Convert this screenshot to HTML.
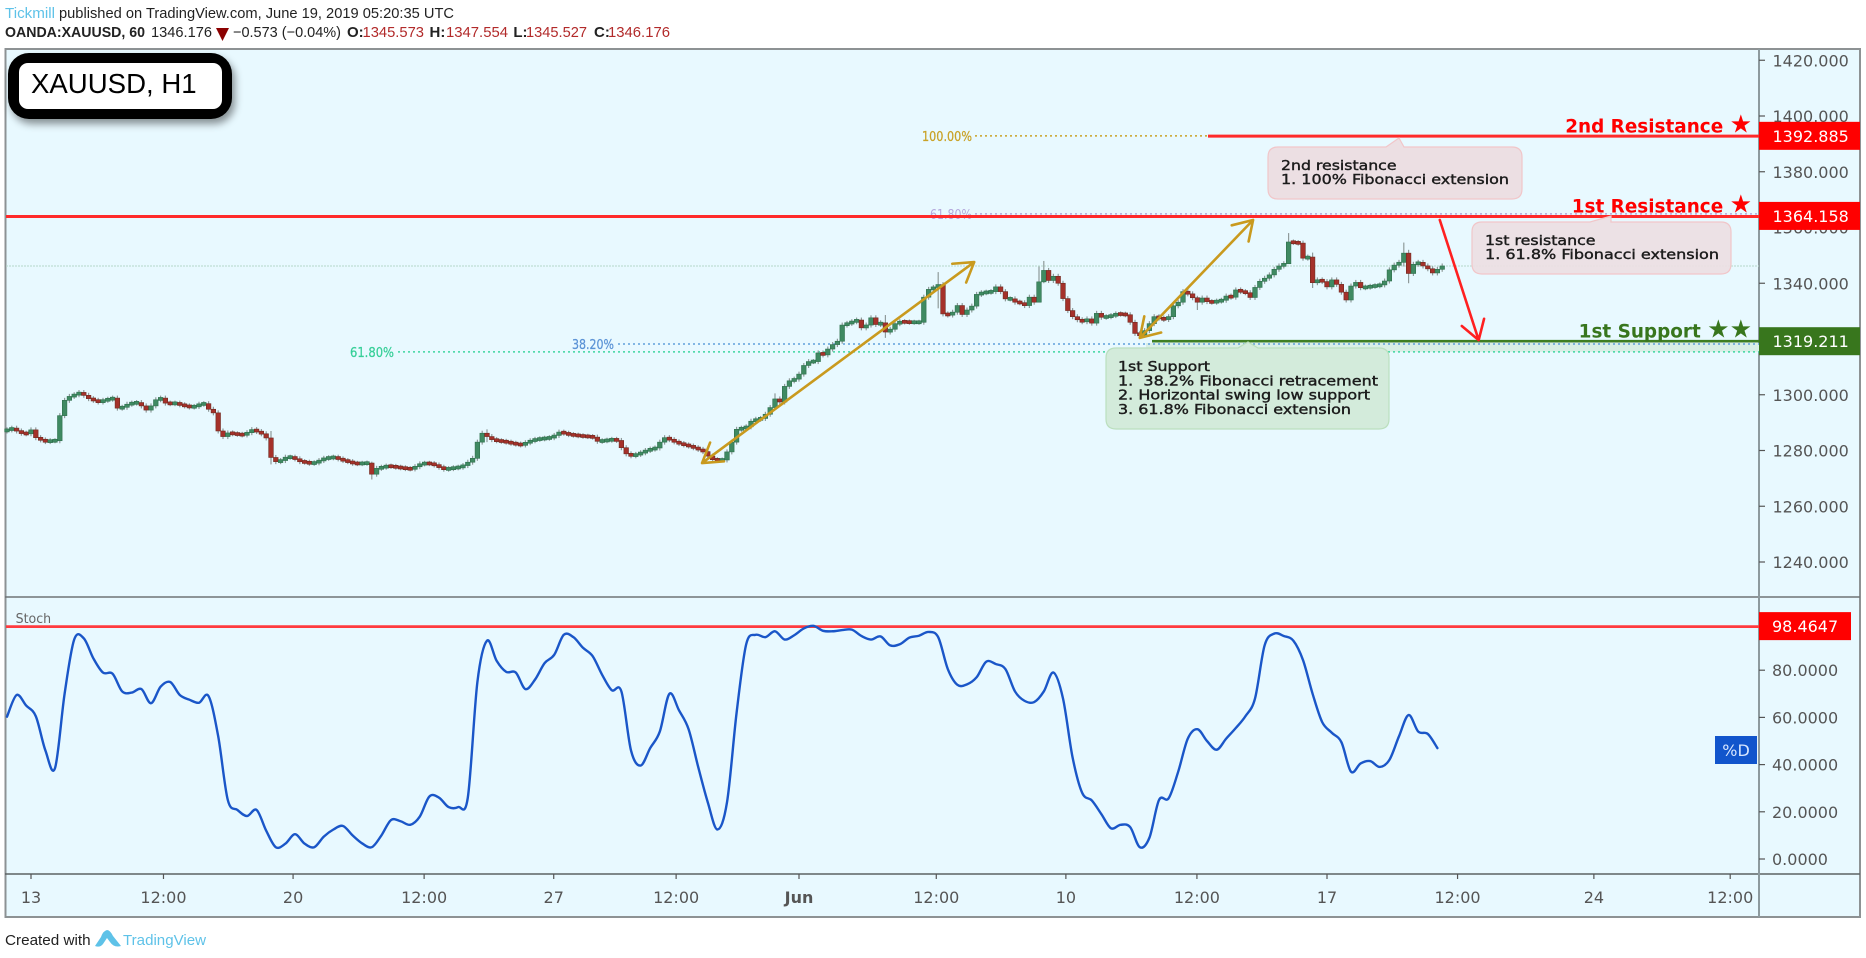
<!DOCTYPE html>
<html lang="en">
<head>
<meta charset="utf-8">
<title>XAUUSD H1 chart</title>
<style>
html,body{margin:0;padding:0;background:#fff;width:1866px;height:958px;overflow:hidden}
svg{display:block;filter:blur(.35px)}
text{font-family:"DejaVu Sans","Liberation Sans",sans-serif}
.hdr{font-family:"Liberation Sans",sans-serif;font-size:15px;fill:#222}
.tick{font-size:16px;fill:#555}
.call{font-size:13.3px;fill:#1c1c1c;stroke:#1c1c1c;stroke-width:.4}
</style>
</head>
<body>
<svg id="chart" xmlns="http://www.w3.org/2000/svg" width="1866" height="958" viewBox="0 0 1866 958">
  <rect x="0" y="0" width="1866" height="958" fill="#ffffff"/>

  <g>
    <text class="hdr" x="5" y="18" textLength="50" lengthAdjust="spacingAndGlyphs" style="fill:#5ec2e8">Tickmill</text>
    <text class="hdr" x="59" y="18" textLength="395" lengthAdjust="spacingAndGlyphs">published on TradingView.com, June 19, 2019 05:20:35 UTC</text>
  </g>
  <g>
    <text class="hdr" x="5" y="37" textLength="140" lengthAdjust="spacingAndGlyphs" font-weight="bold" style="font-weight:bold">OANDA:XAUUSD, 60</text>
    <text class="hdr" x="151" y="37" textLength="61" lengthAdjust="spacingAndGlyphs">1346.176</text>
    <polygon points="216,28 229,28 222.5,41" fill="#8b0000"/>
    <text class="hdr" x="233" y="37" textLength="108" lengthAdjust="spacingAndGlyphs">−0.573 (−0.04%)</text>
    <text class="hdr" x="347" y="37" style="font-weight:bold">O:</text>
    <text class="hdr" x="362.5" y="37" textLength="61.5" lengthAdjust="spacingAndGlyphs" style="fill:#b22a2a">1345.573</text>
    <text class="hdr" x="429.5" y="37" style="font-weight:bold">H:</text>
    <text class="hdr" x="446" y="37" textLength="62" lengthAdjust="spacingAndGlyphs" style="fill:#b22a2a">1347.554</text>
    <text class="hdr" x="513.4" y="37" style="font-weight:bold">L:</text>
    <text class="hdr" x="526" y="37" textLength="61" lengthAdjust="spacingAndGlyphs" style="fill:#b22a2a">1345.527</text>
    <text class="hdr" x="594" y="37" style="font-weight:bold">C:</text>
    <text class="hdr" x="608" y="37" textLength="62" lengthAdjust="spacingAndGlyphs" style="fill:#b22a2a">1346.176</text>
  </g>

  <rect x="5.5" y="49" width="1854.5" height="868" fill="#e8f9ff" stroke="#8d9294" stroke-width="2"/>
  <line x1="5" y1="597" x2="1860" y2="597" stroke="#6f7476" stroke-width="1.5"/>
  <line x1="5" y1="874" x2="1860" y2="874" stroke="#5c6264" stroke-width="1.5"/>
  <line x1="1759" y1="49" x2="1759" y2="917" stroke="#8d9a9e" stroke-width="2"/>

  <g id="time-axis"></g>
  <g id="price-axis"></g>
  <g id="stoch-axis"></g>
  <g id="levels"></g>
  <g id="candles"></g>
  <g id="arrows"></g>

  <g>
    <path d="M1278 147H1386L1399 138L1404 147H1512Q1522 147 1522 157V189Q1522 199 1512 199H1278Q1268 199 1268 189V157Q1268 147 1278 147Z" fill="#ecdfe3" stroke="#f1c6c9" stroke-width="1.2"/>
    <text class="call" x="1281" y="170" textLength="115.5" lengthAdjust="spacingAndGlyphs">2nd resistance</text>
    <text class="call" x="1281" y="184" textLength="228" lengthAdjust="spacingAndGlyphs">1. 100% Fibonacci extension</text>
  </g>
  <g>
    <path d="M1482 222H1590L1611 216L1611 222H1721Q1731 222 1731 232V264Q1731 274 1721 274H1482Q1472 274 1472 264V232Q1472 222 1482 222Z" fill="#ecdfe3" fill-opacity=".93" stroke="#f1c6c9" stroke-width="1.2"/>
    <text class="call" x="1485" y="245" textLength="110.5" lengthAdjust="spacingAndGlyphs">1st resistance</text>
    <text class="call" x="1485" y="259" textLength="234" lengthAdjust="spacingAndGlyphs">1. 61.8% Fibonacci extension</text>
  </g>
  <g>
    <path d="M1116 348H1238L1248 342L1258 348H1379Q1389 348 1389 358V419Q1389 429 1379 429H1116Q1106 429 1106 419V358Q1106 348 1116 348Z" fill="#d3ebdb" stroke="#bbdfbe" stroke-width="1.2"/>
    <text class="call" x="1118" y="371" textLength="92" lengthAdjust="spacingAndGlyphs">1st Support</text>
    <text class="call" x="1118" y="385.5" textLength="260" lengthAdjust="spacingAndGlyphs">1.&#160;&#160;38.2% Fibonacci retracement</text>
    <text class="call" x="1118" y="399.5" textLength="252" lengthAdjust="spacingAndGlyphs">2. Horizontal swing low support</text>
    <text class="call" x="1118" y="414" textLength="233" lengthAdjust="spacingAndGlyphs">3. 61.8% Fibonacci extension</text>
  </g>

  <g id="level-tags"></g>

  <g>
    <rect x="8" y="53" width="224" height="66" rx="21" ry="21" fill="#000" style="filter:drop-shadow(3px 5px 4px rgba(0,0,0,.42))"/>
    <rect x="19" y="63" width="203" height="46" rx="9" ry="9" fill="#fff"/>
    <text x="31" y="93" style="font-family:'Liberation Sans',sans-serif;font-size:27.6px;fill:#000">XAUUSD, H1</text>
  </g>

  <text x="15.6" y="623" textLength="35.5" lengthAdjust="spacingAndGlyphs" style="font-size:13px;fill:#666">Stoch</text>
  <g id="stoch-series"></g>
  <g>
    <rect x="1715" y="736" width="42" height="28" fill="#1155cc"/>
    <text x="1736" y="756" text-anchor="middle" style="font-size:16px;fill:#d7e6ff">%D</text>
  </g>

  <g>
    <text class="hdr" x="5" y="945" textLength="85.6" lengthAdjust="spacingAndGlyphs">Created with</text>
    <path d="M95 946 L101 937 Q103 931 107 930 Q110 930 113 936 L121 946 Q114 948 110 942 L107 938 L103 944 Q100 948 95 946Z" fill="#5ec2e8"/>
    <text class="hdr" x="123" y="945" textLength="83" lengthAdjust="spacingAndGlyphs" style="fill:#5ec2e8">TradingView</text>
  </g>
</svg>

<script>
const closes = [
1287.4,1288,1287,1286.2,1286,1287.4,1284.6,1283.8,1283.2,1283.5,
1283.5,1292.5,1298,1299.4,1300,1300.8,1299.8,1298.6,1298,1297.4,
1298,1298.4,1298.8,1295.2,1295.5,1296.6,1297,1297.2,1296,1294.5,
1296,1298.2,1298.8,1297,1296.8,1297,1296.4,1296,1295.6,1295.8,
1296.6,1296.8,1294.8,1293.5,1287,1285,1286.3,1286,1285.8,1285.6,
1286.4,1287.5,1286.8,1286,1284.5,1277.5,1276,1276.4,1277.6,1277.6,
1277,1276,1275.8,1275.4,1275.6,1276.4,1277.2,1277.4,1277.6,1277,
1276.4,1276,1275.4,1275.3,1275.4,1275.5,1271.5,1273.6,1274,1274.4,
1274.3,1274,1273.8,1273.5,1273.4,1274.2,1275.2,1275.4,1275.3,1274.8,
1274,1273.3,1273.5,1273.8,1274,1274.6,1275.8,1277.2,1283,1286.2,
1285,1283.9,1283.5,1283.3,1283,1282.6,1282.3,1282,1282.8,1283.5,
1284,1284.2,1284.4,1284.6,1285.4,1286.6,1286.2,1285.7,1285.5,1285.3,
1285.1,1285,1284.8,1283.3,1283.5,1283.7,1284,1283.6,1281,1278.8,
1278.1,1278.6,1279.2,1280,1280.5,1280.9,1283,1284.6,1283.9,1283.1,
1282.5,1282,1281.6,1281,1280.4,1279.6,1278,1276.7,1276.6,1276.6,
1279.5,1283,1287.6,1288,1288.5,1290.5,1291.2,1291.5,1293,1295.4,
1298.5,1297.4,1303,1305,1305.6,1307.4,1310.5,1311.9,1311.9,1315,
1314.3,1316.4,1318,1319.2,1325,1325.6,1326.2,1326.8,1324,1325,
1327.6,1325.2,1325.8,1322.5,1323.5,1325.5,1326.2,1326.1,1326,1326,
1326,1335,1337.8,1338.5,1339.5,1329,1328.6,1329.6,1332,1328.8,
1330.4,1331.8,1336,1336.6,1336.8,1337,1338.7,1337,1334.4,1334.4,
1333.2,1333,1332,1335,1333.2,1340.5,1344.6,1341,1342.5,1340,
1334.5,1330.2,1328,1326.9,1326.2,1327.2,1325.7,1329.2,1327.8,1328,
1328.4,1329,1328.9,1328.7,1326,1322,1321.4,1323,1325.5,1328,
1327.5,1327,1328,1331.9,1333.2,1337,1336.2,1334.8,1333.2,1334.7,
1333.4,1333.2,1333.6,1333.9,1335.4,1335,1337.6,1337,1336.6,1334.9,
1338.5,1340.7,1341.8,1343,1345,1346.2,1347,1354.8,1354.6,1354.4,
1349,1349.4,1340.2,1341.2,1340.6,1338.7,1341.2,1339.6,1336.8,1334,
1339,1340.3,1338.4,1338.6,1338.9,1339.1,1339.4,1340.8,1344.8,1346.5,
1347.5,1350.8,1343.5,1346.8,1347.5,1346.2,1345.2,1343.7,1345,1346.2
];
// Candles with a visibly long wick (bar number, high, low)
const spikeBars  = [183,  194,  215,  216,  248,  267,  272,  291,  292,  160,  100,  76,   55];
const spikeHighs = [1328.6,1344,1346, 1348, 1335.5,1358, 1351, 1354.6,1352, 1300.5,1287.6,1276,1287];
const spikeLows  = [1320.4,1331,1338, 1340, 1330.4,1353, 1338.3,1346, 1340, 1296, 1283, 1269.6,1275];
const normalWick = 0.9;
const openingPrice = 1287;

// Stochastic %D, one reading per two candles
const stochD = [
60.3,69.5,65,60.5,46,38.5,70,93,93.5,85,
79,78.5,71,70.5,72,66,73,75,69.5,67.5,
66.2,69,52,25,20.8,18.2,20.8,12,5,6.5,
10.5,6.5,5,9.5,12.5,14,10,6.6,5,10,
16.5,16,14.5,18,26.5,26,22,22,26,75,
92.5,84,79.3,79,72,76,83,86.5,95,94,
89.5,86,78,71.5,71,46,39.6,47,54,70,
63,55,39,24,12.5,24,62,91,95,94,
96.5,93,94.8,97.7,98.8,96.7,96.5,97,97.2,94.5,
93,94.3,90.5,91,93.8,94.6,96.2,94,80.5,73.8,
74,77,83.6,82.6,80.5,71,67,66.5,71,79,
68,43,28,24.8,19,13,14.5,13.5,5,9,
25,25.7,37,51,55,50,46.3,51,55.5,60.5,
68,90.5,95.5,94.5,92.5,84.3,70,58,53.5,49.5,
37,40.5,41.5,39,42,52,61,54,53,47
];

// Axis labels
const priceTicks = [1420,1400,1380,1360,1340,1320,1300,1280,1260,1240];
const stochTicks = [80,60,40,20,0];
const timeLabels = ["13","12:00","20","12:00","27","12:00","Jun","12:00","10","12:00","17","12:00","24","12:00"];
const timeTickBars = [5,32.6,59.6,86.9,113.9,139.4,165,193.6,220.6,247.9,275,302.2,330.6,359];

// Annotated levels
const resistance2 = 1392.885;
const resistance1 = 1364.158;
const support1 = 1319.211;
const fib382 = 1318.2;
const fib618low = 1315.4;
const lastClose = 1346.176;
const stochLast = 98.4647;

// Arrow end points as [bar, price]
const arrowUp1 = [[144.8,1275.5],[201.5,1347.6]];
const arrowUp2 = [[236,1320.4],[259.6,1362.7]];
const arrowDown = [[298.5,1362.7],[306.6,1319.6]];

const NS = 'http://www.w3.org/2000/svg';
const xBar = b => 7 + 4.8 * b;
const yPrice = p => 116 + (1400 - p) * 2.7875;
const yStoch = v => 859 - v * 2.36;

function mk(parent, tag, attrs, txt) {
  const el = document.createElementNS(NS, tag);
  for (const k in attrs) el.setAttribute(k, attrs[k]);
  if (txt !== undefined) el.textContent = txt;
  parent.appendChild(el);
  return el;
}

const timeG = document.getElementById('time-axis');
timeLabels.forEach((lab, i) => {
  const x = xBar(timeTickBars[i]);
  const t = mk(timeG, 'line', {x1:x, y1:874, x2:x, y2:879, stroke:'#555', 'stroke-width':1.2});
  
  
  const l = mk(timeG, 'text', {x:x, y:903, 'text-anchor':'middle', class:'tick'}, lab);
  
  
  if (lab === 'Jun') l.style.fontWeight = 'bold';
});

const priceG = document.getElementById('price-axis');
priceTicks.forEach(p => {
  const y = yPrice(p);
  const t = mk(priceG, 'line', {x1:1759, y1:y, x2:1765, y2:y, stroke:'#555', 'stroke-width':1.2});
  
  
  const l = mk(priceG, 'text', {x:1772.5, y:y + 6, class:'tick'}, p.toFixed(3));
  
  
});

const stochG = document.getElementById('stoch-axis');
stochTicks.forEach(v => {
  const y = yStoch(v);
  const t = mk(stochG, 'line', {x1:1759, y1:y, x2:1765, y2:y, stroke:'#555', 'stroke-width':1.2});
  
  
  const l = mk(stochG, 'text', {x:1772, y:y + 6, class:'tick'}, v.toFixed(4));
  
  
});

// Horizontal levels and Fibonacci dotted lines
const levG = document.getElementById('levels');
const band = mk(levG, 'rect', {x:1146, y:yPrice(fib382) - 1, width:613, height:yPrice(fib618low) - yPrice(fib382) + 1, fill:'#d9efe6'});


const lastLine = mk(levG, 'line', {x1:6, y1:yPrice(lastClose), x2:1759, y2:yPrice(lastClose), stroke:'#b4d8c8', 'stroke-width':1, 'stroke-dasharray':'2 1'});



const fibLine1 = mk(levG, 'line', {x1:975, y1:yPrice(resistance2), x2:1208, y2:yPrice(resistance2), stroke:'#c9a227', 'stroke-width':1.5, 'stroke-dasharray':'2 3'});


const fibLabel1 = mk(levG, 'text', {x:922, y:yPrice(resistance2) + 5, textLength:50, lengthAdjust:'spacingAndGlyphs', style:'font-size:13.5px;fill:#c9a227;stroke:#c9a227;stroke-width:.25'}, '100.00%');



const fibLine2 = mk(levG, 'line', {x1:975, y1:yPrice(resistance1) - 2, x2:1759, y2:yPrice(resistance1) - 2, stroke:'#b3a7dc', 'stroke-width':1.5, 'stroke-dasharray':'2 3'});


const fibLabel2 = mk(levG, 'text', {x:930, y:yPrice(resistance1) + 3, textLength:42, lengthAdjust:'spacingAndGlyphs', style:'font-size:13.5px;fill:#b3a7dc'}, '61.80%');



const fibLine3 = mk(levG, 'line', {x1:618, y1:yPrice(fib382), x2:1759, y2:yPrice(fib382), stroke:'#5f9fdc', 'stroke-width':1.5, 'stroke-dasharray':'2 3'});


const fibLabel3 = mk(levG, 'text', {x:572, y:yPrice(fib382) + 5, textLength:42, lengthAdjust:'spacingAndGlyphs', style:'font-size:13.5px;fill:#5b93d6;stroke:#5b93d6;stroke-width:.25'}, '38.20%');



const fibLine4 = mk(levG, 'line', {x1:398, y1:yPrice(fib618low), x2:1759, y2:yPrice(fib618low), stroke:'#3ed6a0', 'stroke-width':1.5, 'stroke-dasharray':'2 3'});


const fibLabel4 = mk(levG, 'text', {x:350, y:yPrice(fib618low) + 5, textLength:44, lengthAdjust:'spacingAndGlyphs', style:'font-size:13.5px;fill:#36cf98;stroke:#36cf98;stroke-width:.25'}, '61.80%');



const res2Line = mk(levG, 'line', {x1:1208, y1:yPrice(resistance2) + .3, x2:1759, y2:yPrice(resistance2) + .3, stroke:'#ff2a2a', 'stroke-width':3});


const res1Line = mk(levG, 'line', {x1:6, y1:yPrice(resistance1) + .6, x2:1759, y2:yPrice(resistance1) + .6, stroke:'#ff2a2a', 'stroke-width':3});


const supLine = mk(levG, 'line', {x1:1152, y1:yPrice(support1), x2:1759, y2:yPrice(support1), stroke:'#3f7f23', 'stroke-width':2.6});



// Candles
const candleG = document.getElementById('candles');
closes.forEach((c, i) => {
  const o = i === 0 ? openingPrice : closes[i - 1];
  const s = spikeBars.indexOf(i);
  const hi = s >= 0 ? spikeHighs[s] : Math.max(o, c) + normalWick;
  const lo = s >= 0 ? spikeLows[s] : Math.min(o, c) - normalWick;
  const x = xBar(i);
  const up = c >= o;
  const g = mk(candleG, 'g', {});
  
  
  mk(g, 'line', {x1:x, y1:yPrice(hi), x2:x, y2:yPrice(lo), stroke:'#8f9a9a', 'stroke-width':1.2});
  const h = Math.max(3, Math.abs(yPrice(o) - yPrice(c)));
  const mid = (yPrice(o) + yPrice(c)) / 2;
  mk(g, 'rect', {x:x - 2.3, y:mid - h / 2, width:4.6, height:h, fill: up ? '#3f8a62' : '#a5312a', stroke: up ? '#2f6f4c' : '#6f2a20', 'stroke-width':.6});
});

// Arrows
const arrG = document.getElementById('arrows');
function arrowHead(tip, from, len) {
  const a = Math.atan2(from[1] - tip[1], from[0] - tip[0]);
  const d = 0.56;
  return [tip[0] + len * Math.cos(a + d), tip[1] + len * Math.sin(a + d),
          tip[0] + len * Math.cos(a - d), tip[1] + len * Math.sin(a - d)];
}
function drawArrow(pts, colour, twoWay, name) {
  const p0 = [xBar(pts[0][0]), yPrice(pts[0][1])];
  const p1 = [xBar(pts[1][0]), yPrice(pts[1][1])];
  const h1 = arrowHead(p1, p0, 22);
  let d = 'M' + p0[0] + ' ' + p0[1] + 'L' + p1[0] + ' ' + p1[1] +
          'M' + h1[0] + ' ' + h1[1] + 'L' + p1[0] + ' ' + p1[1] + 'L' + h1[2] + ' ' + h1[3];
  if (twoWay) {
    const h0 = arrowHead(p0, p1, 22);
    d += 'M' + h0[0] + ' ' + h0[1] + 'L' + p0[0] + ' ' + p0[1] + 'L' + h0[2] + ' ' + h0[3];
  }
  const a = mk(arrG, 'path', {d:d, fill:'none', stroke:colour, 'stroke-width':2.6, 'stroke-linecap':'round', 'stroke-linejoin':'round'});
  
  
}
drawArrow(arrowUp1, '#c99a1e', true, 'projection-arrow-1');
drawArrow(arrowUp2, '#c99a1e', true, 'projection-arrow-2');
drawArrow(arrowDown, '#ff2020', false, 'bearish-arrow');

// Level tags and headings
const tagG = document.getElementById('level-tags');
function levelTag(price, colour, heading, stars, nameBox, nameText, nameHead) {
  const y = yPrice(price);
  const r = mk(tagG, 'rect', {x:1759, y:y - 14, width:101, height:28, fill:colour});
  
  
  const t = mk(tagG, 'text', {x:1772.5, y:y + 6, style:'font-size:16px;fill:#fff'}, price.toFixed(3));
  
  
  const h = mk(tagG, 'text', {x:1752, y:y - 3.5, 'text-anchor':'end', style:'font-size:18.4px;font-weight:bold;fill:' + colour}, heading + ' ');
  
  
  const st = mk(h, 'tspan', {style:'font-size:25px'}, stars);
  
  
}
levelTag(resistance2, '#ff0000', '2nd Resistance', '★', 'resistance-2-tag', 'resistance-2-price', 'resistance-2-heading');
levelTag(resistance1, '#ff0000', '1st Resistance', '★', 'resistance-1-tag', 'resistance-1-price', 'resistance-1-heading');
levelTag(support1, '#38761d', '1st Support', '★★', 'support-1-tag', 'support-1-price', 'support-1-heading');

// Stochastic pane
const stG = document.getElementById('stoch-series');
const stLevel = mk(stG, 'line', {x1:6, y1:yStoch(stochLast), x2:1759, y2:yStoch(stochLast), stroke:'#ff3b3f', 'stroke-width':2.8});


const stTag = mk(stG, 'rect', {x:1759, y:yStoch(stochLast) - 14.5, width:92, height:28, fill:'#ff0000'});


const stTagText = mk(stG, 'text', {x:1772, y:yStoch(stochLast) + 5.5, style:'font-size:16px;fill:#fff'}, stochLast.toFixed(4));



// Smooth curve passing through every reading
const stPt = j => {
  const k = Math.max(0, Math.min(stochD.length - 1, j));
  return [xBar(k * 2), yStoch(stochD[k])];
};
let dPath = 'M' + stPt(0).join(' ');
for (let j = 0; j < stochD.length - 1; j++) {
  const a = stPt(j - 1), b = stPt(j), c = stPt(j + 1), e = stPt(j + 2);
  dPath += 'C' + (b[0] + (c[0] - a[0]) / 6) + ' ' + (b[1] + (c[1] - a[1]) / 6) + ' ' +
           (c[0] - (e[0] - b[0]) / 6) + ' ' + (c[1] - (e[1] - b[1]) / 6) + ' ' + c[0] + ' ' + c[1];
}
const stLine = mk(stG, 'path', {d:dPath, fill:'none', stroke:'#1a56c8', 'stroke-width':2.4, 'stroke-linejoin':'round', 'stroke-linecap':'round'});


</script>
</body>
</html>
